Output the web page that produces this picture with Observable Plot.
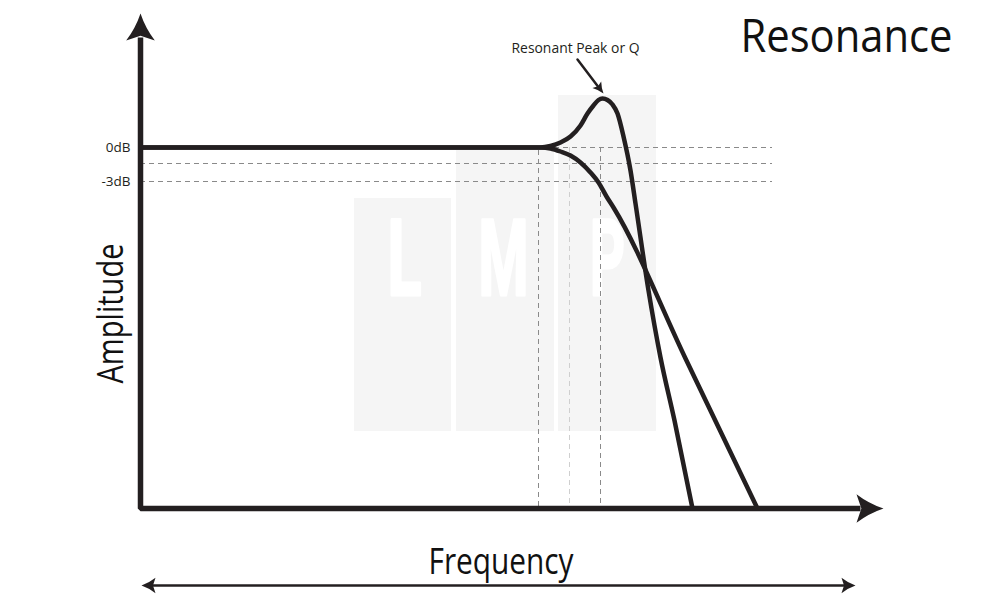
<!DOCTYPE html>
<html><head><meta charset="utf-8">
<script src="https://cdn.jsdelivr.net/npm/d3@7"></script>
<script src="https://cdn.jsdelivr.net/npm/@observablehq/plot@0.6"></script>
<style>body{margin:0;background:#fff}</style>
</head><body><div id="chart"></div>
<script>
// ---- schematic data (units of the drawing plane: frequency → x, amplitude level → y, top = high) ----
const axisX = [140, 140, 860];
const axisY = [37, 508, 508];
const arrowTipX = [140, 883];
const arrowTipY = [13, 508];
const arrowRotate = [0, 90];

const resonantX = [140, 540, 550, 560, 570, 580, 587, 593, 598, 602, 607, 612, 617, 623, 630, 635, 648, 660, 674, 692];
const resonantY = [147, 147, 145.5, 142, 136, 125, 113, 105, 99.5, 98, 99.5, 104, 113, 136, 170, 203, 290, 357, 420, 508];

const lowpassX = [140, 540, 550, 560, 570, 580, 590, 598, 606, 613, 685, 757];
const lowpassY = [147, 147, 148, 151, 155, 162, 172, 182, 196, 207, 358, 508];

const levelLabels = ["0dB", "-3dB"];
const levelLabelY = [147, 181];
const guideY = [147, 163, 181];
const guideStart = [545, 140, 140];
const guideEnd = 772;
const markerX = [538, 569, 600];
const markerTop = [150, 147, 147];
const markerColor = ["#8a8a8a", "#cfcfcf", "#8a8a8a"];

const panelLetters = ["L", "M", "P"];
const panelX1 = [354, 456, 558];
const panelX2 = [451, 554, 656];
const panelY1 = [198, 150, 95];
const panelY2 = 431;
const letterX = [404, 503, 607];
const letterWidth = [34, 50, 35];

const titleText = "Resonance";
const xLabel = "Frequency";
const yLabel = "Amplitude";
const peakLabel = "Resonant Peak or Q";
const peakArrowX = [577, 599];
const peakArrowY = [59, 88];
const spanX = [141, 855];
const spanY = 585;

// ---- build tables ----
const INK = "#231f20";
const axis = axisX.map((x, i) => ({x, y: axisY[i]}));
const axisArrows = arrowTipX.map((x, i) => ({x, y: arrowTipY[i], r: arrowRotate[i]}));
const resonant = resonantX.map((x, i) => ({x, y: resonantY[i]}));
const lowpass = lowpassX.map((x, i) => ({x, y: lowpassY[i]}));
const levels = levelLabels.map((t, i) => ({t, y: levelLabelY[i]}));
const guides = guideY.map((y, i) => ({y, x1: guideStart[i], x2: guideEnd}));
const markers = markerX.map((x, i) => ({x, y1: markerTop[i], y2: axisY[1], c: markerColor[i]}));
const panels = panelLetters.map((l, i) => ({l, x1: panelX1[i], x2: panelX2[i], y1: panelY1[i], y2: panelY2, lx: letterX[i]}));
const peakArrow = peakArrowX.map((x, i) => ({x, y: peakArrowY[i]}));

function arrowSymbol(ratio) {
  return {
    draw(ctx, size) {
      const L = Math.sqrt(size / Math.PI), w = L * ratio;
      ctx.moveTo(0, 0);
      ctx.quadraticCurveTo(w * 0.35, L * 0.55, w, L);
      ctx.lineTo(0, L * 0.82);
      ctx.lineTo(-w, L);
      ctx.quadraticCurveTo(-w * 0.35, L * 0.55, 0, 0);
      ctx.closePath();
    }
  };
}
const head = arrowSymbol(0.53);

const chart = Plot.plot({
  width: 1000, height: 600, margin: 0,
  x: {domain: [0, 1000], range: [0, 1000], axis: null},
  y: {domain: [0, 600], range: [0, 600], axis: null},
  style: {background: "#fff", fontFamily: "Open Sans"},
  marks: [
    Plot.rect(panels, {x1: "x1", x2: "x2", y1: "y1", y2: "y2", fill: "#f5f5f5"}),
    Plot.text(panels, {x: "lx", y: 261, text: "l", fill: "#fff", stroke: "#fff", strokeWidth: 3, fontSize: 106, fontWeight: 700, fontFamily: "Roboto"}),
    Plot.ruleY(guides, {y: "y", x1: "x1", x2: "x2", stroke: "#8a8a8a", strokeWidth: 1, strokeDasharray: "5,4"}),
    Plot.ruleX(markers.filter(d => d.c === "#8a8a8a"), {x: "x", y1: "y1", y2: "y2", stroke: "#8a8a8a", strokeWidth: 1, strokeDasharray: "5,4"}),
    Plot.ruleX(markers.filter(d => d.c !== "#8a8a8a"), {x: "x", y1: "y1", y2: "y2", stroke: "#cfcfcf", strokeWidth: 1, strokeDasharray: "5,4"}),
    Plot.line(lowpass, {x: "x", y: "y", curve: "monotone-x", stroke: INK, strokeWidth: 4.5}),
    Plot.line(resonant, {x: "x", y: "y", curve: "monotone-x", stroke: INK, strokeWidth: 4.5}),
    Plot.line(axis, {x: "x", y: "y", stroke: INK, strokeWidth: 5.5, strokeLinejoin: "miter", strokeLinecap: "butt"}),
    Plot.dot(axisArrows, {x: "x", y: "y", rotate: "r", r: 27, symbol: head, fill: INK, stroke: "none"}),
    Plot.text(levels, {x: 130, y: "y", text: "t", textAnchor: "end", fontSize: 13.5, fill: INK}),
    Plot.line(peakArrow, {x: "x", y: "y", stroke: INK, strokeWidth: 2.5}),
    Plot.dot([{x: 603, y: 93}], {x: "x", y: "y", rotate: 142.6, r: 11, symbol: arrowSymbol(0.5), fill: INK, stroke: "none"}),
    Plot.text([peakLabel], {x: 575, y: 47.5, text: d => d, fontSize: 15, fontWeight: 500, fill: INK}),
    Plot.text([titleText], {x: 846, y: 37.5, text: d => d, fontSize: 45, fill: "#111"}),
    Plot.text([xLabel], {x: 500.5, y: 561.5, text: d => d, fontSize: 36, fill: "#111"}),
    Plot.text([yLabel], {x: 110.5, y: 313, text: d => d, fontSize: 36, rotate: -90, fill: "#111"}),
    Plot.ruleY([spanY], {x1: spanX[0] + 8, x2: spanX[1] - 8, stroke: INK, strokeWidth: 2.5}),
    Plot.dot(spanX.map((x, i) => ({x, y: spanY, r: i ? 90 : -90})), {x: "x", y: "y", rotate: "r", r: 14, symbol: arrowSymbol(0.55), fill: INK, stroke: "none"})
  ]
});

// fit the narrow display lettering to the widths seen in the drawing
const fit = {"Resonance": 212, "Frequency": 145, "Amplitude": 140, "Resonant Peak or Q": 128};
panelLetters.forEach((l, i) => fit[l] = letterWidth[i]);
d3.select(chart).selectAll("text").each(function () {
  const w = fit[this.textContent];
  if (w) { this.setAttribute("textLength", w); this.setAttribute("lengthAdjust", "spacingAndGlyphs"); }
});
document.getElementById("chart").append(chart);
</script>
</body></html>
